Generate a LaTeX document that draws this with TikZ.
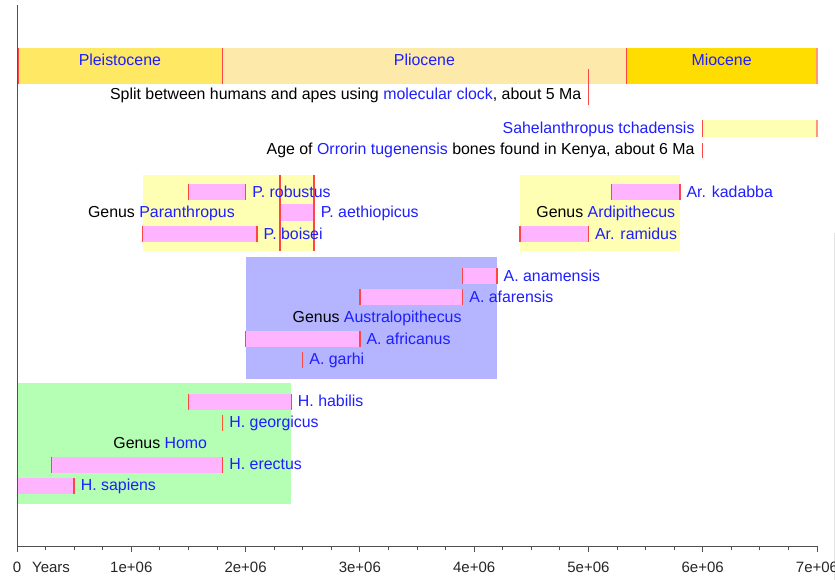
\documentclass[tikz,border=0pt]{standalone}
\usepackage{fontspec}
\setmainfont{Liberation Sans}
\definecolor{pleist}{RGB}{255,232,100}
\definecolor{plio}{RGB}{253,234,170}
\definecolor{mio}{RGB}{255,221,0}
\definecolor{lyel}{RGB}{255,255,180}
\definecolor{spink}{RGB}{255,180,255}
\definecolor{hgreen}{RGB}{180,255,180}
\definecolor{abluebox}{RGB}{180,180,255}
\definecolor{redl}{RGB}{255,70,70}
\definecolor{salm}{RGB}{255,150,120}
\definecolor{tblue}{RGB}{30,30,255}
\definecolor{axgray}{RGB}{80,80,80}
\tikzset{
  lbl/.style={font=\fontsize{15.9}{18}\selectfont, inner sep=0pt, text=black},
  bl/.style={lbl, text=tblue},
  tick/.style={font=\fontsize{15}{17}\selectfont, inner sep=0pt, text=black!85},
  redline/.style={draw=redl, line width=1.3pt},
  axline/.style={draw=axgray, line width=1pt},
}
\newcommand\spbar[4]{% x1 x2 ytop ybot
  \fill[spink] (#1,#3) rectangle (#2,#4);
  \draw[redline] (#1,#3) -- (#1,#4);
  \draw[redline] (#2,#3) -- (#2,#4);}
\begin{document}
\begin{tikzpicture}[x=1pt,y=-1pt]
\useasboundingbox (0,0) rectangle (835,580);
\draw[draw={rgb,255:red,228;green,228;blue,228}, line width=1pt] (834,233) -- (834,580);
\begin{scope}[x=114.285714pt, xshift=17pt]
% epochs
\fill[pleist] (0,48) rectangle (1.8,84);
\fill[plio] (1.8,48) rectangle (5.33,84);
\fill[mio] (5.33,48) rectangle (7,84);
\draw[redline] (0.01,48) -- (0.01,84);
\draw[redline] (1.8,48) -- (1.8,84);
\draw[redline] (5.33,48) -- (5.33,84);
\draw[draw=salm, line width=1.3pt] (7,48) -- (7,84);
\node[bl, anchor=base] (pleistocene) at (0.9,65.5) {Pleistocene};
\node[bl, anchor=base] (pliocene) at (3.565,65.5) {Pliocene};
\node[bl, anchor=base] (miocene) at (6.165,65.5) {Miocene};
% split
\draw[redline] (5,69.5) -- (5,105);
\node[lbl, anchor=base east, xshift=-7pt] (split) at (5,99.5) {Split between humans and apes using \textcolor{tblue}{molecular clock}, about 5 Ma};
% Sahelanthropus
\fill[lyel] (6,120.5) rectangle (7,137.5);
\draw[redline] (6,120.5) -- (6,137.5);
\draw[draw=salm, line width=1.3pt] (7,120.5) -- (7,137.5);
\node[bl, anchor=base east, xshift=-8pt] (sahel) at (6,134) {Sahelanthropus tchadensis};
% Orrorin
\draw[redline] (6,143) -- (6,158);
\node[lbl, anchor=base east, xshift=-8pt] (orrorin) at (6,154.5) {Age of \textcolor{tblue}{Orrorin tugenensis} bones found in Kenya, about 6 Ma};
% Paranthropus
\fill[lyel] (1.1,175) rectangle (2.6,251);
\spbar{1.5}{2.0}{184}{200}
\fill[spink] (2.3,204.5) rectangle (2.6,221);
\spbar{1.1}{2.1}{226}{242}
\draw[redline] (2.3,175) -- (2.3,251);
\draw[redline] (2.6,175) -- (2.6,251);
\node[bl, anchor=base west, xshift=6.5pt] (probustus) at (2.0,197) {P. robustus};
\node[bl, anchor=base west, xshift=6.5pt] (paethiopicus) at (2.6,218) {P. aethiopicus};
\node[bl, anchor=base west, xshift=6.5pt] (pboisei) at (2.1,239) {P. boisei};
\node[lbl, anchor=base east] (gparanthropus) at (1.9075,218) {Genus \textcolor{tblue}{Paranthropus}};
% Ardipithecus
\fill[lyel] (4.4,175) rectangle (5.8,251);
\spbar{5.2}{5.8}{184}{200}
\spbar{4.4}{5.0}{226}{242}
\node[bl, anchor=base west, xshift=6.5pt] (arkadabba) at (5.8,197) {Ar. kadabba};
\node[bl, anchor=base west, xshift=6.5pt] (arramidus) at (5.0,239) {Ar. ramidus};
\node[lbl, anchor=base east, xshift=-4.5pt] (gardipithecus) at (5.8,218) {Genus \textcolor{tblue}{Ardipithecus}};
% Australopithecus
\fill[abluebox] (2.0,257) rectangle (4.2,379);
\spbar{3.9}{4.2}{268}{284}
\spbar{3.0}{3.9}{289}{305}
\spbar{2.0}{3.0}{331}{347}
\draw[redline] (2.5,352) -- (2.5,368);
\node[bl, anchor=base west, xshift=6.5pt] (aanamensis) at (4.2,281) {A. anamensis};
\node[bl, anchor=base west, xshift=6.5pt] (aafarensis) at (3.9,302) {A. afarensis};
\node[lbl, anchor=base east, xshift=-1pt] (gaustralopithecus) at (3.9,322.5) {Genus \textcolor{tblue}{Australopithecus}};
\node[bl, anchor=base west, xshift=6.5pt] (aafricanus) at (3.0,344) {A. africanus};
\node[bl, anchor=base west, xshift=6.5pt] (agarhi) at (2.5,364.5) {A. garhi};
% Homo
\fill[hgreen] (0,383) rectangle (2.4,504);
\spbar{1.5}{2.4}{394}{410}
\draw[draw=redl!70!orange, line width=1.3pt] (1.8,415) -- (1.8,431);
\spbar{0.3}{1.8}{456.5}{472.5}
\fill[spink] (0,477.5) rectangle (0.5,493.5);
\draw[redline] (0.5,477.5) -- (0.5,493.5);
\node[bl, anchor=base west, xshift=6.5pt] (hhabilis) at (2.4,406) {H. habilis};
\node[bl, anchor=base west, xshift=6.5pt] (hgeorgicus) at (1.8,427.5) {H. georgicus};
\node[lbl, anchor=base east] (ghomo) at (1.665,448.5) {Genus \textcolor{tblue}{Homo}};
\node[bl, anchor=base west, xshift=6.5pt] (herectus) at (1.8,469.5) {H. erectus};
\node[bl, anchor=base west, xshift=6.5pt] (hsapiens) at (0.5,490) {H. sapiens};
% axes
\draw[axline] (0,5) -- (0,546) -- (7,546);
\foreach \i in {0,1,...,7} \draw[axline] (\i,546) -- (\i,552);
\foreach \i in {0.25,0.5,0.75,1.25,1.5,1.75,2.25,2.5,2.75,3.25,3.5,3.75,4.25,4.5,4.75,5.25,5.5,5.75,6.25,6.5,6.75}
  \draw[axline, line width=0.8pt] (\i,546) -- (\i,549.5);
\node[tick, anchor=base] (t0) at (0,572) {0};
\node[tick, anchor=base west] (years) at (0.131,572) {Years};
\node[tick, anchor=base] (t1) at (1,572) {1e+06};
\node[tick, anchor=base] (t2) at (2,572) {2e+06};
\node[tick, anchor=base] (t3) at (3,572) {3e+06};
\node[tick, anchor=base] (t4) at (4,572) {4e+06};
\node[tick, anchor=base] (t5) at (5,572) {5e+06};
\node[tick, anchor=base] (t6) at (6,572) {6e+06};
\node[tick, anchor=base] (t7) at (7,572) {7e+06};
\end{scope}
\end{tikzpicture}
\end{document}
